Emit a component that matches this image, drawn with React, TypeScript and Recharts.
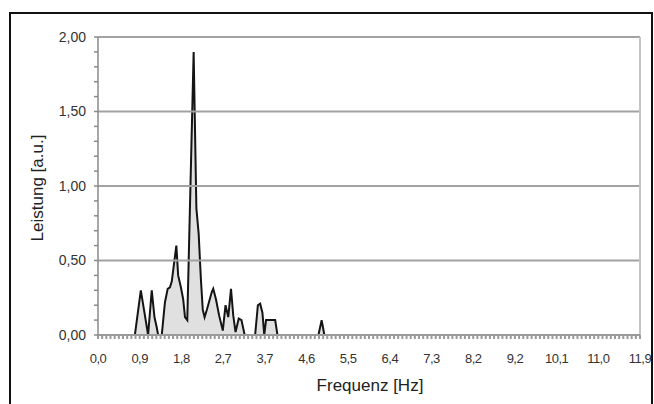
import { ComposedChart, Area, XAxis, YAxis, ReferenceLine } from 'recharts';

// spectrum (Hz / a.u.)
const freqHz = [
    0, 0.81, 0.94, 1.02, 1.10, 1.18, 1.24, 1.29, 1.32, 1.40,
    1.47, 1.53, 1.58, 1.62, 1.72, 1.76, 1.82, 1.87, 1.91, 1.96,
    2.10, 2.16, 2.21, 2.26, 2.30, 2.34, 2.39, 2.50, 2.53, 2.59,
    2.66, 2.74, 2.80, 2.86, 2.92, 2.97, 3.02, 3.09, 3.15, 3.22,
    3.45, 3.51, 3.56, 3.61, 3.65, 3.69, 3.89, 3.94, 4.84, 4.91,
    4.97, 11.9
];
const power = [
    0, 0, 0.30, 0.15, 0, 0.30, 0.12, 0.05, 0, 0,
    0.22, 0.31, 0.32, 0.36, 0.60, 0.40, 0.32, 0.24, 0.12, 0.10,
    1.90, 0.85, 0.68, 0.37, 0.17, 0.12, 0.17, 0.29, 0.31, 0.24,
    0.13, 0.03, 0.20, 0.12, 0.31, 0.13, 0.02, 0.11, 0.10, 0,
    0, 0.20, 0.21, 0.15, 0, 0.10, 0.10, 0, 0, 0.10,
    0, 0
];

const xTickLabels = ['0,0', '0,9', '1,8', '2,7', '3,7', '4,6', '5,5', '6,4', '7,3', '8,2', '9,2', '10,1', '11,0', '11,9'];
const yTickLabels = ['0,00', '0,50', '1,00', '1,50', '2,00'];
const gridValues = [0.5, 1, 1.5, 2];

const xMax = 11.9;
const xMinorPerMajor = 10;
const yMinorPerMajor = 5;

const data = freqHz.map((f, i) => ({ f, p: power[i] }));

const xMinorCount = (xTickLabels.length - 1) * xMinorPerMajor;
const xTicks = Array.from({ length: xMinorCount + 1 }, (_, i) => (i * xMax) / xMinorCount);
const yMinorCount = (yTickLabels.length - 1) * yMinorPerMajor;
const yTicks = Array.from({ length: yMinorCount + 1 }, (_, i) => (i * 2) / yMinorCount);

const font = '"Liberation Sans", Arial, sans-serif';

export default function App() {
    return (
        <div style={{ position: 'absolute', left: 0, top: 0, width: 654, height: 404, background: '#fff', overflow: 'hidden', fontFamily: font }}>
            {/* outer frame */}
            <div style={{ position: 'absolute', left: 9, top: 12, width: 644, height: 420, border: '2px solid #111', boxSizing: 'border-box' }} />

            <div style={{ position: 'absolute', left: 0, top: 0 }}>
                <ComposedChart width={654} height={404} data={data} margin={{ top: 37, right: 14, bottom: 0, left: 0 }}>
                    <XAxis
                        type="number"
                        dataKey="f"
                        domain={[0, xMax]}
                        ticks={xTicks}
                        interval={0}
                        height={69}
                        stroke="#9a9a9a"
                        strokeWidth={2}
                        tickSize={4}
                        tickMargin={15}
                        tickFormatter={(_v: number, i: number) => (i % xMinorPerMajor === 0 ? xTickLabels[i / xMinorPerMajor] : '')}
                        tick={{ fontSize: 13, fill: '#333', fontFamily: font, letterSpacing: -0.5 }}
                    />
                    <YAxis
                        type="number"
                        domain={[0, 2]}
                        ticks={yTicks}
                        interval={0}
                        width={98}
                        stroke="#8a8a8a"
                        strokeWidth={1.5}
                        tickSize={4}
                        tickMargin={8}
                        tickFormatter={(_v: number, i: number) => (i % yMinorPerMajor === 0 ? yTickLabels[i / yMinorPerMajor] : '')}
                        tick={{ fontSize: 14, fill: '#333', fontFamily: font }}
                    />
                    {gridValues.map((v) => (
                        <ReferenceLine key={v} y={v} stroke="#a2a2a2" strokeWidth={2} />
                    ))}
                    <ReferenceLine x={xMax} stroke="#c4c4c4" strokeWidth={2} />
                    <Area
                        type="linear"
                        dataKey="p"
                        stroke="#141414"
                        strokeWidth={2}
                        fill="#e0e0e0"
                        fillOpacity={1}
                        dot={false}
                        activeDot={false}
                        isAnimationActive={false}
                    />
                </ComposedChart>
            </div>

            {/* axis titles */}
            <div style={{ position: 'absolute', left: 270, width: 200, top: 376, textAlign: 'center', fontSize: 17, color: '#222', lineHeight: '20px' }}>
                Frequenz [Hz]
            </div>
            <div style={{ position: 'absolute', left: 38 - 100, top: 188 - 10, width: 200, height: 20, textAlign: 'center', fontSize: 17, color: '#222', lineHeight: '20px', transform: 'rotate(-90deg)' }}>
                Leistung [a.u.]
            </div>
        </div>
    );
}
